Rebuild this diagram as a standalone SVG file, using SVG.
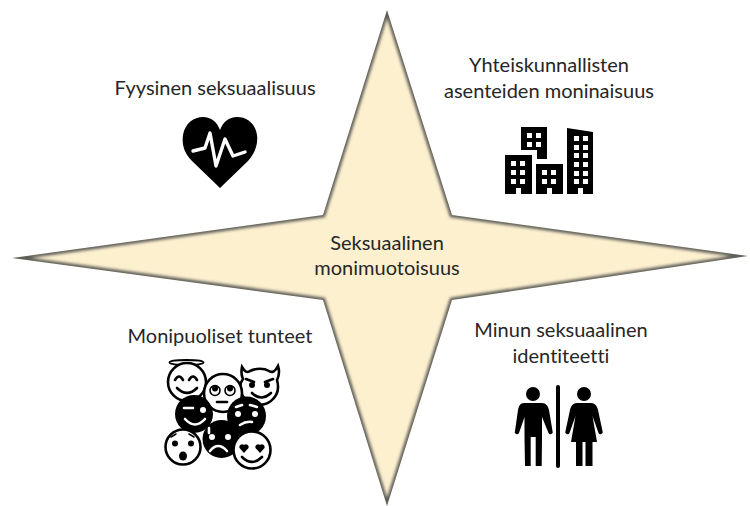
<svg xmlns="http://www.w3.org/2000/svg" width="750" height="506" viewBox="0 0 750 506">
<style>
text{font-family:"Lato","Open Sans","Liberation Sans",sans-serif;font-size:20px;fill:#262626;text-anchor:middle;font-variant-ligatures:none}
.k{fill:#000;stroke:none}
.w{fill:#fff;stroke:none}
.l{fill:none;stroke:#000;stroke-width:2.6;stroke-linecap:round}
.lw{fill:none;stroke:#fff;stroke-width:2.6;stroke-linecap:round;stroke-linejoin:round}
.f{fill:#fff;stroke:#000;stroke-width:2.6}
.e{fill:none;stroke:#fff;stroke-width:3.4;stroke-linecap:round;stroke-linejoin:round}
.t{fill:none;stroke:#000;stroke-width:1.6}
</style>
<defs>
<path id="s" d="M387 10L452 215L748 256L452 300L387 506L323 300L12 258L323 215Z"/>
<clipPath id="c"><use href="#s"/></clipPath>
<filter id="b" x="-5%" y="-5%" width="110%" height="110%"><feGaussianBlur stdDeviation="1.6"/></filter>
</defs>
<rect width="750" height="506" fill="#fff"/>
<g id="star">
<use href="#s" fill="#fdf0cf"/>
<g clip-path="url(#c)"><use href="#s" fill="none" stroke="#5f5f5a" stroke-width="5" filter="url(#b)"/></g>
<text x="387" y="250">Seksuaalinen</text>
<text x="387" y="275">monimuotoisuus</text>
</g>
<g id="fyysinen">
<text x="215" y="95">Fyysinen seksuaalisuus</text>
<path class="k" d="M220 188L192 161C183 152 182 143 183 135C185 123 194 117 203 117C211 117 217 122 220 130C223 122 229 117 237 117C247 117 255 123 257 135C258 143 256 152 248 161Z"/>
<path class="e" d="M193 151L205 148L210 133L216 166L225 139L233 156L245 152"/>
</g>
<g id="yhteiskunnallinen">
<text x="549" y="72">Yhteiskunnallisten</text>
<text x="549" y="98">asenteiden moninaisuus</text>
<path class="k" d="M505 155H532V194H521V188H516V194H505Z"/>
<path class="k" d="M521 127H547V159H537V150H521Z"/>
<path class="k" d="M536 164H563V194H552V188H547V194H536Z"/>
<path class="k" d="M567 128L593 132V194H583V188H578V194H567Z"/>
<g class="w">
<rect x="527" y="133" width="5" height="5"/><rect x="536" y="133" width="5" height="5"/><rect x="527" y="142" width="5" height="5"/><rect x="536" y="142" width="5" height="5"/>
<rect x="511" y="161" width="5" height="5"/><rect x="520" y="161" width="5" height="5"/><rect x="511" y="170" width="5" height="5"/><rect x="520" y="170" width="5" height="5"/><rect x="511" y="179" width="5" height="5"/><rect x="520" y="179" width="5" height="5"/>
<rect x="542" y="170" width="5" height="5"/><rect x="551" y="170" width="5" height="5"/><rect x="542" y="179" width="5" height="5"/><rect x="551" y="179" width="5" height="5"/>
<rect x="574" y="136" width="5" height="5"/><rect x="583" y="136" width="5" height="5"/><rect x="574" y="145" width="5" height="5"/><rect x="583" y="145" width="5" height="5"/><rect x="574" y="153" width="5" height="5"/><rect x="583" y="153" width="5" height="5"/><rect x="574" y="162" width="5" height="5"/><rect x="583" y="162" width="5" height="5"/><rect x="574" y="171" width="5" height="5"/><rect x="583" y="171" width="5" height="5"/><rect x="574" y="179" width="5" height="5"/><rect x="583" y="179" width="5" height="5"/>
</g>
</g>
<g id="tunteet">
<text x="220" y="343">Monipuoliset tunteet</text>
<ellipse class="l" cx="186.500" cy="362.500" rx="17" ry="2.500" style="stroke-width:1.8"/>
<circle class="f" cx="187" cy="382" r="19"/>
<path class="l" d="M175 380Q179 373 183 380M189 380Q193 373 197 380M177 388Q187 398 197 388"/>
<path class="f" d="M242 367C245 372 247 373 250 371C256 368 264 368 269 371C272 373 275 372 278 366C280 372 279 376 277 380C279 387 278 394 273 399C267 406 254 407 247 401C240 395 238 385 243 379C241 375 241 372 242 367Z"/>
<circle class="k" cx="252" cy="385" r="3"/><circle class="k" cx="267" cy="385" r="3"/>
<path class="l" d="M246 379L254 382M273 379L265 382M252 393Q261 402 271 393"/>
<circle class="f" cx="223" cy="393" r="19"/>
<circle class="t" cx="215" cy="390.500" r="5"/><circle class="t" cx="230" cy="390.500" r="5"/>
<circle class="k" cx="215" cy="388.500" r="3"/><circle class="k" cx="230" cy="388.500" r="3"/>
<path class="l" d="M217 402H227"/>
<circle class="k" cx="194" cy="414" r="19"/>
<path class="lw" d="M184 408H193M185 419Q195 430 205 419"/><circle class="w" cx="203" cy="410" r="3"/>
<circle class="k" cx="246.500" cy="416" r="19.500"/>
<circle class="w" cx="238" cy="414" r="3"/><circle class="w" cx="255" cy="414" r="3"/>
<path class="lw" d="M236 407L242 405M250 405L257 407M240 425Q246 421 252 422"/>
<circle class="k" cx="221.500" cy="439" r="19"/>
<circle class="w" cx="212" cy="437" r="3"/><circle class="w" cx="228" cy="437" r="3"/>
<path class="lw" d="M210 451Q218 441 227 451M209 428V433"/>
<circle class="f" cx="183" cy="447" r="17.500"/>
<circle class="k" cx="175" cy="443.500" r="3"/><circle class="k" cx="191" cy="443.500" r="3"/><ellipse class="k" cx="183" cy="456" rx="4" ry="4.500"/>
<path class="l" d="M171 437L176 434M189 434L194 437" style="stroke-width:1.500"/>
<circle class="f" cx="252" cy="450" r="18.500"/>
<path class="k" d="M244 453l-4.500-5a2.800 2.800 0 0 1 4.500-3a2.800 2.800 0 0 1 4.500 3ZM260 453l-4.500-5a2.800 2.800 0 0 1 4.500-3a2.800 2.800 0 0 1 4.500 3Z"/>
<path class="l" d="M242 457Q252 467 262 457"/>
</g>
<g id="identiteetti">
<text x="561" y="337">Minun seksuaalinen</text>
<text x="561" y="363">identiteetti</text>
<circle class="k" cx="533" cy="394" r="7"/>
<path class="k" d="M524 403H542C546 403 548 406 549 410L552.500 431A2 2 0 0 1 548.500 433L542 417V437L541.700 466H535.700V437H530.700V466H525L524.500 437V417L519 433A2 2 0 0 1 515 431L518 410C519 406 520 403 524 403Z"/>
<rect class="k" x="556" y="385" width="4" height="83" rx="2"/>
<circle class="k" cx="584" cy="394" r="7"/>
<path class="k" d="M577 403H591C595 403 597 406 598 410L602.500 431A2 2 0 0 1 598.500 433L592.500 416L597 442H592.500V466H585.500V442H582.500V466H576V442H571L575.500 416L569.500 433A2 2 0 0 1 565.500 431L570 410C571 406 573 403 577 403Z"/>
</g>
</svg>
